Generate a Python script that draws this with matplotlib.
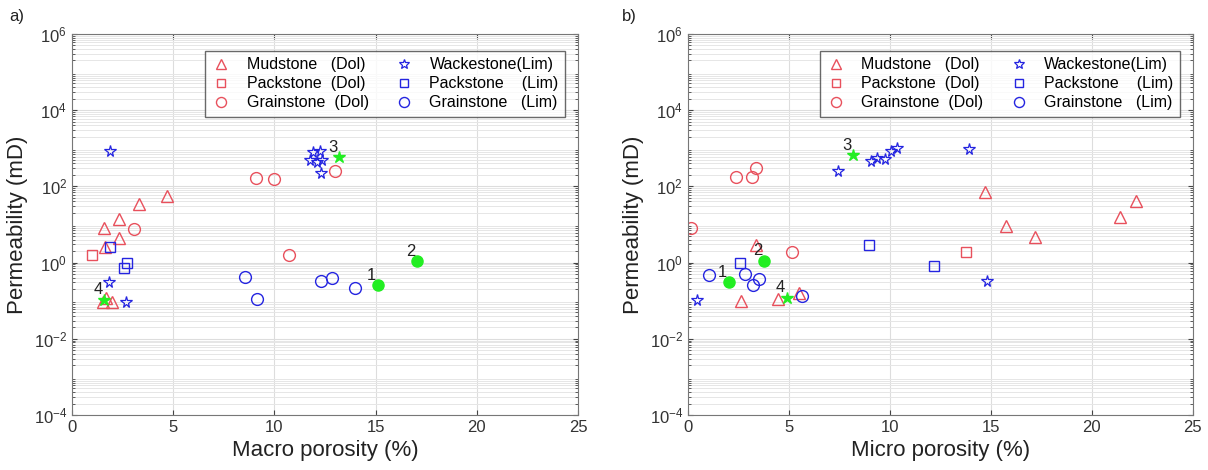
import numpy as np
import matplotlib.pyplot as plt
from matplotlib.ticker import LogLocator, NullFormatter

plt.rcParams['font.family'] = ['Liberation Sans', 'DejaVu Sans']

# ---- panel a) macro porosity (%) vs permeability (mD)
a_mud_dol_x = [4.7, 3.3, 2.3, 1.6, 2.3, 1.63, 1.55, 1.7, 2.0]
a_mud_dol_y = [55, 34, 14, 8, 4.5, 2.6, 0.09, 0.12, 0.09]
a_pack_dol_x = [1.0]
a_pack_dol_y = [1.6]
a_grain_dol_x = [9.1, 10.0, 13.0, 3.06, 10.7]
a_grain_dol_y = [162, 160, 250, 7.4, 1.6]
a_wack_lim_x = [1.88, 1.83, 2.67, 11.9, 12.25, 11.76, 12.1, 12.35, 12.3]
a_wack_lim_y = [830, 0.3, 0.094, 780, 830, 480, 430, 480, 220]
a_pack_lim_x = [1.88, 2.7, 2.57]
a_pack_lim_y = [2.5, 1.0, 0.7]
a_grain_lim_x = [8.55, 9.15, 12.3, 12.85, 14.0]
a_grain_lim_y = [0.43, 0.11, 0.32, 0.4, 0.21]
a_num_x = [15.1, 17.05, 13.2, 1.6]
a_num_y = [0.25, 1.07, 580, 0.107]

# ---- panel b) micro porosity (%) vs permeability (mD)
b_mud_dol_x = [3.37, 2.62, 4.45, 5.5, 14.7, 15.75, 17.2, 22.2, 21.4]
b_mud_dol_y = [2.9, 0.1, 0.11, 0.16, 70, 9.3, 4.8, 40, 16]
b_pack_dol_x = [13.76]
b_pack_dol_y = [1.9]
b_grain_dol_x = [2.38, 3.17, 3.37, 0.15, 5.15]
b_grain_dol_y = [180, 180, 300, 8, 1.9]
b_wack_lim_x = [0.45, 7.43, 9.05, 9.35, 9.75, 10.05, 10.35, 13.9, 14.8]
b_wack_lim_y = [0.107, 245, 460, 550, 510, 830, 1000, 940, 0.32]
b_pack_lim_x = [2.6, 8.96, 12.2]
b_pack_lim_y = [1.0, 2.8, 0.8]
b_grain_lim_x = [1.04, 2.82, 3.2, 3.5, 5.64]
b_grain_lim_y = [0.48, 0.5, 0.25, 0.38, 0.13]
b_num_x = [2.03, 3.76, 8.17, 4.9]
b_num_y = [0.3, 1.1, 660, 0.12]

num_labels = ['1', '2', '3', '4']
num_marker = ['o', 'o', '*', '*']

red = '#e8505c'
blue = '#2424e0'
green = '#22ee22'

fig = plt.figure(figsize=(12.08, 4.70), dpi=100)
ax_a = fig.add_axes([0.0596, 0.117, 0.419, 0.811])
ax_b = fig.add_axes([0.5695, 0.117, 0.418, 0.811])


def panel(ax, d, xlabel):
    ax.set_yscale('log')
    ax.plot(d[0], d[1], '^', ms=9, mfc='none', mec=red, mew=1.0, ls='none',
            label='Mudstone   (Dol)')
    ax.plot(d[2], d[3], 's', ms=6.5, mfc='none', mec=red, mew=1.0, ls='none',
            label='Packstone  (Dol)')
    ax.plot(d[4], d[5], 'o', ms=8.5, mfc='none', mec=red, mew=1.0, ls='none',
            label='Grainstone  (Dol)')
    ax.plot(d[6], d[7], '*', ms=8.5, mfc='none', mec=blue, mew=0.9, ls='none',
            label='Wackestone(Lim)')
    ax.plot(d[8], d[9], 's', ms=6.5, mfc='none', mec=blue, mew=1.0, ls='none',
            label='Packstone    (Lim)')
    ax.plot(d[10], d[11], 'o', ms=8.5, mfc='none', mec=blue, mew=1.0, ls='none',
            label='Grainstone   (Lim)')
    nx, ny = d[12], d[13]
    for i in range(len(nx)):
        if num_marker[i] == 'o':
            ax.plot(nx[i], ny[i], 'o', ms=8, color=green, zorder=4)
        else:
            ax.plot(nx[i], ny[i], '*', ms=9, color=green, zorder=4)
        ax.annotate(num_labels[i], (nx[i], ny[i]), xytext=(-8, 4),
                    textcoords='offset points', fontsize=12, color='#222222')

    ax.set_xlim(0, 25)
    ax.set_ylim(1e-4, 1e6)
    ax.set_xticks([0, 5, 10, 15, 20, 25])
    ax.set_yticks([1e-4, 1e-2, 1e0, 1e2, 1e4, 1e6])
    ax.yaxis.set_minor_locator(LogLocator(base=10, subs=np.arange(2, 10), numticks=50))
    ax.yaxis.set_minor_formatter(NullFormatter())
    ax.grid(True, which='major', color='#dddddd', lw=0.8)
    ax.grid(True, which='minor', axis='y', color='#e6e6e6', lw=0.7)
    ax.set_axisbelow(True)
    ax.tick_params(which='both', direction='in', top=True, right=True,
                   colors='#444444', labelsize=12, labelcolor='#333333')
    ax.tick_params(which='minor', length=2.5)
    for s in ax.spines.values():
        s.set_color('#777777')
    ax.set_xlabel(xlabel, fontsize=16, color='#222222')
    ax.set_ylabel('Permeability (mD)', fontsize=16, color='#222222')
    leg = ax.legend(loc='upper right', ncol=2, fontsize=11.5, frameon=True,
                    fancybox=False, edgecolor='#444444', borderpad=0.4,
                    handlelength=1.2, handletextpad=1.0, columnspacing=1.6,
                    labelspacing=0.25, markerscale=0.85,
                    bbox_to_anchor=(0.99, 0.976))
    leg.get_frame().set_linewidth(1.0)


panel(ax_a, [a_mud_dol_x, a_mud_dol_y, a_pack_dol_x, a_pack_dol_y,
             a_grain_dol_x, a_grain_dol_y, a_wack_lim_x, a_wack_lim_y,
             a_pack_lim_x, a_pack_lim_y, a_grain_lim_x, a_grain_lim_y,
             a_num_x, a_num_y], 'Macro porosity (%)')
panel(ax_b, [b_mud_dol_x, b_mud_dol_y, b_pack_dol_x, b_pack_dol_y,
             b_grain_dol_x, b_grain_dol_y, b_wack_lim_x, b_wack_lim_y,
             b_pack_lim_x, b_pack_lim_y, b_grain_lim_x, b_grain_lim_y,
             b_num_x, b_num_y], 'Micro porosity (%)')

fig.text(0.008, 0.955, 'a)', fontsize=12, color='#222222')
fig.text(0.515, 0.955, 'b)', fontsize=12, color='#222222')

plt.savefig('out.png', dpi=100)
